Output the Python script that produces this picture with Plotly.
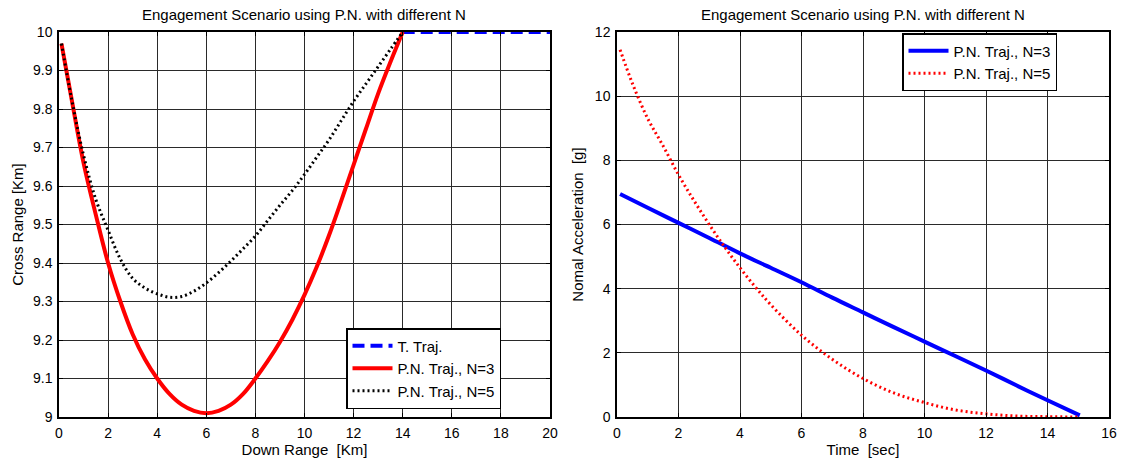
import plotly.graph_objects as go

# ---------------- data ----------------
title_text = "Engagement Scenario using P.N. with different N"

# Left: trajectories (Down Range vs Cross Range, Km)
target_x = [14.0, 20.0]
target_y = [10.0, 10.0]

pn3_x = [0.1, 0.5, 1.0, 1.5, 2.0, 2.5, 3.0, 3.5, 4.0, 4.5, 5.0, 5.5, 6.0, 6.5, 7.0,
         7.5, 8.0, 8.5, 9.0, 9.5, 10.0, 10.5, 11.0, 11.5, 12.0, 12.5, 13.0, 13.5, 14.0]
pn3_y = [9.97, 9.83, 9.66, 9.525, 9.40, 9.30, 9.215, 9.15, 9.10, 9.06, 9.032, 9.016, 9.01, 9.016, 9.032,
         9.06, 9.10, 9.145, 9.195, 9.252, 9.317, 9.39, 9.472, 9.562, 9.655, 9.748, 9.84, 9.922, 10.0]

pn5_x = [0.1, 0.5, 1.0, 1.5, 2.0, 2.5, 3.0, 3.5, 4.0, 4.5, 5.0, 5.5, 6.0, 6.5, 7.0,
         7.5, 8.0, 8.5, 9.0, 9.5, 10.0, 10.5, 11.0, 11.5, 12.0, 12.5, 13.0, 13.5, 14.0]
pn5_y = [9.97, 9.83, 9.68, 9.565, 9.485, 9.41, 9.36, 9.335, 9.32, 9.311, 9.313, 9.327, 9.348, 9.375, 9.405,
         9.437, 9.47, 9.51, 9.55, 9.588, 9.63, 9.675, 9.72, 9.77, 9.82, 9.865, 9.91, 9.955, 10.0]

# Right: normal acceleration vs time
acc3_t = [0.1, 1, 2, 3, 4, 5, 6, 7, 8, 9, 10, 11, 12, 13, 14, 15.05]
acc3_a = [6.95, 6.52, 6.05, 5.58, 5.10, 4.65, 4.20, 3.72, 3.26, 2.80, 2.35, 1.90, 1.45, 0.98, 0.52, 0.05]

acc5_t = [0.1, 0.5, 1, 1.5, 2, 2.5, 3, 3.5, 4, 4.5, 5, 6, 7, 8, 9, 10, 11, 12, 13, 14, 15]
acc5_a = [11.45, 10.4, 9.3, 8.45, 7.55, 6.75, 6.0, 5.3, 4.65, 4.05, 3.5, 2.55, 1.8, 1.2, 0.75,
          0.45, 0.22, 0.1, 0.03, 0.01, 0.0]

left_xticks = [0, 2, 4, 6, 8, 10, 12, 14, 16, 18, 20]
left_yticks = [9, 9.1, 9.2, 9.3, 9.4, 9.5, 9.6, 9.7, 9.8, 9.9, 10]
left_yticklabels = ["9", "9.1", "9.2", "9.3", "9.4", "9.5", "9.6", "9.7", "9.8", "9.9", "10"]
right_xticks = [0, 2, 4, 6, 8, 10, 12, 14, 16]
right_yticks = [0, 2, 4, 6, 8, 10, 12]

# ---------------- figure ----------------
FONT = "Liberation Sans, Arial, sans-serif"
FS_TICK = 14
FS_LAB = 15
FS_TITLE = 15
FS_LEG = 15
W, H = 1124, 462

fig = go.Figure()

fig.add_trace(go.Scatter(x=target_x, y=target_y, mode="lines", name="T. Traj.",
                         line=dict(color="#0000ff", width=4, dash="12px,6px"),
                         xaxis="x", yaxis="y", legend="legend"))
fig.add_trace(go.Scatter(x=pn3_x, y=pn3_y, mode="lines", name="P.N. Traj., N=3",
                         line=dict(color="#ff0000", width=4, shape="spline"),
                         xaxis="x", yaxis="y", legend="legend"))
fig.add_trace(go.Scatter(x=pn5_x, y=pn5_y, mode="lines", name="P.N. Traj., N=5",
                         line=dict(color="#000000", width=3, dash="2px,3px", shape="spline"),
                         xaxis="x", yaxis="y", legend="legend"))

fig.add_trace(go.Scatter(x=acc3_t, y=acc3_a, mode="lines", name="P.N. Traj., N=3",
                         line=dict(color="#0000ff", width=4, shape="spline"),
                         xaxis="x2", yaxis="y2", legend="legend2"))
fig.add_trace(go.Scatter(x=acc5_t, y=acc5_a, mode="lines", name="P.N. Traj., N=5",
                         line=dict(color="#ff0000", width=3, dash="2px,3px", shape="spline"),
                         xaxis="x2", yaxis="y2", legend="legend2"))

axis_common = dict(
    showline=True, linecolor="black", linewidth=1.5, mirror="ticks",
    ticks="inside", ticklen=4, tickcolor="black",
    showgrid=True, gridcolor="#2a2a2a", gridwidth=1,
    zeroline=False, tickfont=dict(family=FONT, size=FS_TICK, color="black"),
    automargin=False,
)

y_top = 1 - 32 / H
y_bot = 1 - 417 / H
Lx0, Lx1 = 59, 550
Rx0, Rx1 = 617, 1109

fig.update_layout(
    width=W, height=H,
    margin=dict(l=0, r=0, t=0, b=0),
    paper_bgcolor="white", plot_bgcolor="white",
    font=dict(family=FONT, size=FS_TICK, color="black"),
    showlegend=True,
    xaxis=dict(axis_common, domain=[Lx0 / W, Lx1 / W], range=[0, 20],
               tickvals=left_xticks, anchor="y", ticklabelstandoff=2,
               title=dict(text="Down Range  [Km]", standoff=1,
                          font=dict(family=FONT, size=FS_LAB))),
    yaxis=dict(axis_common, domain=[y_bot, y_top], range=[9, 10],
               tickvals=left_yticks, ticktext=left_yticklabels, anchor="x",
               ticklabelstandoff=2,
               title=dict(text="Cross Range [Km]", standoff=6,
                          font=dict(family=FONT, size=FS_LAB))),
    xaxis2=dict(axis_common, domain=[Rx0 / W, Rx1 / W], range=[0, 16],
                tickvals=right_xticks, anchor="y2", ticklabelstandoff=2,
                title=dict(text="Time  [sec]", standoff=1,
                           font=dict(family=FONT, size=FS_LAB))),
    yaxis2=dict(axis_common, domain=[y_bot, y_top], range=[0, 12],
                tickvals=right_yticks, anchor="x2", ticklabelstandoff=2,
                title=dict(text="Nomal Acceleration  [g]", standoff=8,
                           font=dict(family=FONT, size=FS_LAB))),
    legend=dict(x=346 / W, y=1 - 368.5 / H, xanchor="left", yanchor="middle",
                bgcolor="white", bordercolor="black", borderwidth=1.5,
                font=dict(family=FONT, size=FS_LEG, color="black"),
                tracegroupgap=0, itemwidth=40),
    legend2=dict(x=902 / W, y=1 - 62 / H, xanchor="left", yanchor="middle",
                 bgcolor="white", bordercolor="black", borderwidth=1.5,
                 font=dict(family=FONT, size=FS_LEG, color="black"),
                 tracegroupgap=0, itemwidth=40),
    annotations=[
        dict(text=title_text, x=(Lx0 + Lx1) / 2 / W, y=1 - 15 / H, xref="paper", yref="paper",
             xanchor="center", yanchor="middle", showarrow=False,
             font=dict(family=FONT, size=FS_TITLE, color="black")),
        dict(text=title_text, x=(Rx0 + Rx1) / 2 / W, y=1 - 15 / H, xref="paper", yref="paper",
             xanchor="center", yanchor="middle", showarrow=False,
             font=dict(family=FONT, size=FS_TITLE, color="black")),
    ],
)

fig.write_html("out.html")
